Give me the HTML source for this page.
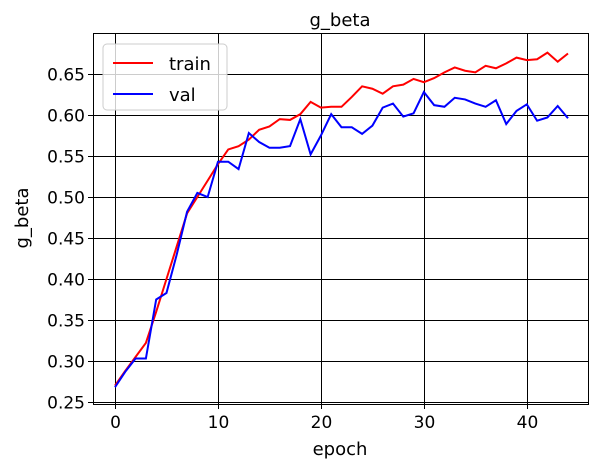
<!DOCTYPE html>
<html><head><meta charset="utf-8"><style>
html,body{margin:0;padding:0;background:#fff;}
svg text{font-family:"DejaVu Sans","Liberation Sans",sans-serif;fill:#000;}
</style></head><body>
<svg id="chart" width="602" height="469"></svg>
<script>
const epochs=[...Array(45).keys()];
const trainValues=[0.27,0.288,0.305,0.322,0.36,0.40,0.44,0.48,0.50,0.52,0.54,0.558,0.562,0.57,0.582,0.586,0.595,0.594,0.601,0.616,0.609,0.610,0.610,0.622,0.635,0.632,0.626,0.635,0.637,0.644,0.64,0.645,0.652,0.658,0.654,0.652,0.660,0.657,0.663,0.670,0.667,0.668,0.676,0.665,0.675];
const valValues=[0.268,0.287,0.303,0.303,0.375,0.383,0.43,0.482,0.505,0.50,0.543,0.543,0.534,0.578,0.567,0.56,0.56,0.562,0.595,0.552,0.575,0.601,0.585,0.585,0.577,0.587,0.609,0.614,0.598,0.602,0.628,0.612,0.61,0.621,0.619,0.614,0.61,0.618,0.589,0.605,0.613,0.593,0.597,0.611,0.596];
const xTicks=[0,10,20,30,40];
const yTicks=[0.25,0.30,0.35,0.40,0.45,0.50,0.55,0.60,0.65];
const NS='http://www.w3.org/2000/svg';
const svg=document.getElementById('chart');
const L=93,R=588,T=33,B=404;
const xScale=v=>115+(v-0)*(568-115)/44;
const yScale=v=>402-(v-0.25)*820;
function mk(tag,attrs,parent){const e=document.createElementNS(NS,tag);for(const k in attrs)e.setAttribute(k,attrs[k]);(parent||svg).appendChild(e);return e;}
const grid=mk('g',{});


xTicks.forEach(t=>{const x=Math.round(xScale(t))+0.5;
 const l=mk('line',{x1:x,x2:x,y1:T,y2:B,stroke:'#000','stroke-width':1},grid);
 
 
 mk('line',{x1:x,x2:x,y1:B,y2:B+5,stroke:'#000'});
 const tx=mk('text',{x:x,y:B+24,'text-anchor':'middle','font-size':17});
 tx.textContent=t;
 
 
});
yTicks.forEach(t=>{const y=Math.round(yScale(t))+0.5;
 const l=mk('line',{x1:L,x2:R,y1:y,y2:y,stroke:'#000','stroke-width':1},grid);
 
 
 mk('line',{x1:L-5,x2:L,y1:y,y2:y,stroke:'#000'});
 const tx=mk('text',{x:L-8,y:y+6,'text-anchor':'end','font-size':17});
 tx.textContent=t.toFixed(2);
 
 
});
function series(vals,color,name){
 const p=mk('polyline',{points:vals.map((v,i)=>xScale(epochs[i])+','+yScale(v)).join(' '),fill:'none',stroke:color,'stroke-width':2});
 
 
}
series(trainValues,'#ff0000','train-line');
series(valValues,'#0000ff','val-line');
const frame=mk('rect',{x:L+0.5,y:T+0.5,width:R-L,height:B-T,fill:'none',stroke:'#000','stroke-width':1});


const lg=mk('g',{});


mk('rect',{x:103,y:44,width:124,height:66,rx:4,fill:'#fff','fill-opacity':0.8,stroke:'#ccc'},lg);
[['train','#ff0000',63],['val','#0000ff',94]].forEach(([n,c,y])=>{
 const e=mk('g',{},lg);
 
 
 mk('line',{x1:113,x2:153,y1:y,y2:y,stroke:c,'stroke-width':2},e);
 const t=mk('text',{x:169,y:y+7,'font-size':18},e);t.textContent=n;
});
const title=mk('text',{x:340,y:26,'text-anchor':'middle','font-size':18});
title.textContent='g_beta';


const xt=mk('text',{x:340,y:455,'text-anchor':'middle','font-size':18});
xt.textContent='epoch';


const yt=mk('text',{x:28,y:218,'text-anchor':'middle','font-size':18,transform:'rotate(-90 28 218)'});
yt.textContent='g_beta';


</script>
</body></html>
